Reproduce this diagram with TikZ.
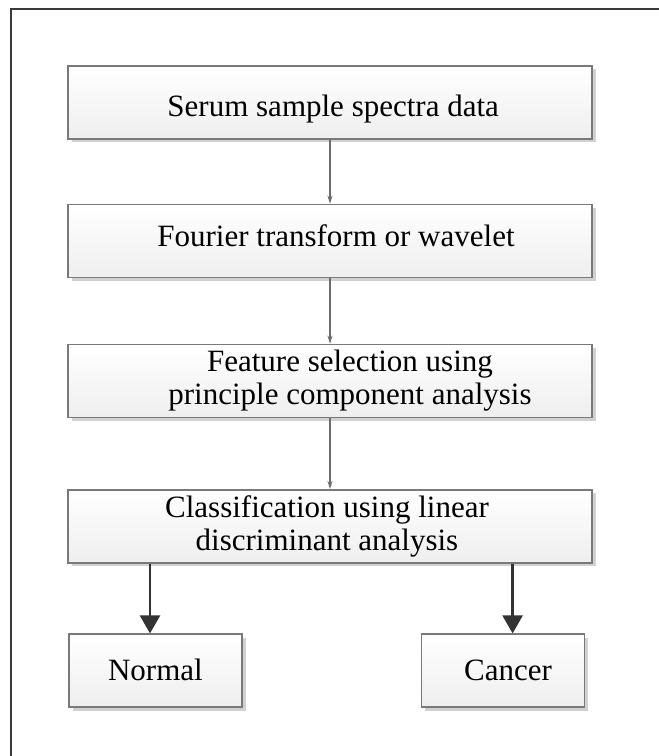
\documentclass[tikz,border=0pt]{standalone}
\usepackage{fontspec}
\setmainfont{Liberation Serif}
\usetikzlibrary{arrows.meta,shadows}
\begin{document}
\begin{tikzpicture}[x=1pt,y=-1pt,
  flowbox/.style={draw=gray!95!black, line width=1.6pt, rectangle,
    top color=white, bottom color=gray!13, inner sep=0pt,
    drop shadow={shadow xshift=3.5pt, shadow yshift=-3.5pt, opacity=0.18, fill=black}},
  mainbox/.style={flowbox, minimum width=524pt, minimum height=73pt},
  label/.style={inner sep=0pt, font=\fontsize{31}{33}\selectfont, align=center},
  thinarrow/.style={draw=gray!85!black, line width=1.3pt,
    -{Stealth[length=8pt,width=5pt,fill=gray!40!black]}},
  bigarrow/.style={draw=gray!40!black, line width=2.4pt,
    -{Triangle[length=18pt,width=20pt]}},
  frame/.style={draw=gray!45!black, line width=2pt}]
\useasboundingbox (0,0) rectangle (659,756);

% outer frame (top and left edges only)
\draw[frame] (11,756) -- (11,8.5) -- (659,8.5);

% process boxes
\node[mainbox] (b1) at (330,102.2) {};
\node[mainbox] (b2) at (330,241) {};
\node[mainbox] (b3) at (330,381) {};
\node[mainbox] (b4) at (330,526.3) {};
\node[flowbox, minimum width=173pt, minimum height=73pt] (nrm) at (155.5,670.7) {};
\node[flowbox, minimum width=163pt, minimum height=73pt] (cnc) at (503,670.7) {};

% box texts
\node[label, anchor=base] (t1) at (333.2,116.7) {Serum sample spectra data};
\node[label, anchor=base] (t2) at (336,246.7) {Fourier transform or wavelet};
\node[label] (t3) at (350,380.6) {Feature selection using\\principle component analysis};
\node[label] (t4) at (327,526.8) {Classification using linear\\discriminant analysis};
\node[label, anchor=base] (t5) at (155.4,680) {Normal};
\node[label, anchor=base] (t6) at (508,680) {Cancer};

% connectors
\coordinate (mx) at (330,0);
\coordinate (lx) at (150,0);
\coordinate (rx) at (512.6,0);
\draw[thinarrow] (b1.south -| mx) -- (b2.north -| mx);
\draw[thinarrow] (b2.south -| mx) -- (b3.north -| mx);
\draw[thinarrow] (b3.south -| mx) -- (b4.north -| mx);
\draw[bigarrow] (b4.south -| lx) -- (nrm.north -| lx);
\draw[bigarrow] (b4.south -| rx) -- (cnc.north -| rx);
\end{tikzpicture}
\end{document}
